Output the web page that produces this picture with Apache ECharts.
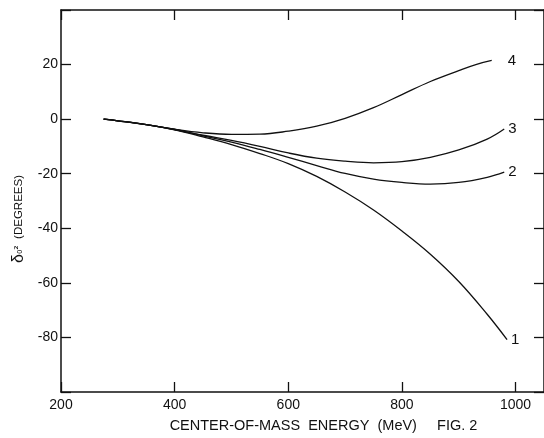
<!DOCTYPE html>
<html>
<head>
<meta charset="utf-8">
<script src="https://cdn.jsdelivr.net/npm/echarts@6/dist/echarts.min.js"></script>
<style>
html,body{margin:0;padding:0;background:#fff;}
#c{width:544px;height:438px;}
</style>
</head>
<body>
<div id="c"></div>
<script>
var energy1 = [275,300,350,400,450,500,550,600,650,700,750,800,850,900,950,985];
var curve1  = [0,-0.6,-2.0,-3.9,-6.5,-9.3,-12.6,-16.3,-21.0,-26.7,-33.3,-41.0,-49.5,-59.5,-71.5,-80.8];
var energy2 = [275,300,350,400,450,500,550,600,650,700,750,800,850,900,950,980];
var curve2  = [0,-0.6,-2.0,-3.8,-6.1,-8.4,-11.1,-14.0,-17.0,-19.9,-22.0,-23.2,-23.8,-23.2,-21.3,-19.4];
var energy3 = [275,300,350,400,450,500,550,600,650,700,750,800,850,900,950,980];
var curve3  = [0,-0.6,-2.0,-3.8,-5.9,-7.8,-10.0,-12.4,-14.3,-15.4,-16.0,-15.6,-14.0,-11.3,-7.3,-3.6];
var energy4 = [275,300,350,400,450,500,550,600,650,700,750,800,850,900,930,958];
var curve4  = [0,-0.6,-2.0,-3.7,-5.0,-5.6,-5.5,-4.4,-2.6,0.3,4.2,9.0,13.8,17.8,20.0,21.5];
var curveNames = ['1','2','3','4'];
var xTickLabels = [200,400,600,800,1000];
var yTickLabels = [20,0,-20,-40,-60,-80];

function pairs(xs, ys){ return xs.map(function(x,i){return [x, ys[i]];}); }

var font = 'Liberation Sans, Arial, sans-serif';
var chart = echarts.init(document.getElementById('c'), null, {renderer:'canvas'});

var xs = [energy1, energy2, energy3, energy4];
var ysArr = [curve1, curve2, curve3, curve4];
var labelOffsets = [[2,0],[2,0],[2,0],[14,0]];

var series = curveNames.map(function(n, i){
  return {
    type:'line', name:n, data: pairs(xs[i], ysArr[i]),
    smooth:0.4, showSymbol:false, symbol:'none',
    lineStyle:{color:'#111', width:1.3},
    endLabel:{show:true, formatter:n, color:'#111', fontFamily:font, fontSize:15, distance:2, offset:labelOffsets[i]},
    silent:true, animation:false, z:3
  };
});

function axisCommon(){
  return {
    axisLine:{show:true, onZero:false, lineStyle:{color:'#111', width:1.5}},
    axisTick:{show:true, inside:true, length:10, lineStyle:{color:'#111', width:1.3}},
    splitLine:{show:false}
  };
}

chart.setOption({
  animation:false,
  backgroundColor:'#fff',
  grid:{left:61, top:10, right:-1, bottom:37, containLabel:false},
  xAxis:[
    Object.assign(axisCommon(), {
      type:'value', position:'bottom', min:200, max:1050, interval:200,
      axisLabel:{show:true, color:'#111', fontFamily:font, fontSize:14, margin:6,
        showMaxLabel:false,
        formatter:function(v){ return xTickLabels.indexOf(v) >= 0 ? String(v) : ''; }},
      name:'CENTER-OF-MASS  ENERGY  (MeV)     FIG. 2',
      nameLocation:'middle', nameGap:26,
      nameTextStyle:{color:'#111', fontFamily:font, fontSize:14.5, padding:[0,0,0,42]}
    }),
    Object.assign(axisCommon(), {
      type:'value', position:'top', min:200, max:1050, interval:200,
      axisLabel:{show:false}
    })
  ],
  yAxis:[
    Object.assign(axisCommon(), {
      type:'value', position:'left', min:-100, max:40, interval:20,
      axisLabel:{show:true, color:'#111', fontFamily:font, fontSize:14, margin:3,
        formatter:function(v){ return yTickLabels.indexOf(v) >= 0 ? String(v) : ''; }},
      name:'{d|δ}{s|₀²}  (DEGREES)', nameLocation:'middle', nameGap:30, nameRotate:90,
      nameTextStyle:{color:'#111', fontFamily:font, fontSize:11.5, padding:[0,36,0,0],
        rich:{
          d:{fontFamily:font, fontSize:16, color:'#111'},
          s:{fontFamily:'DejaVu Sans, sans-serif', fontSize:11, color:'#111'}
        }}
    }),
    Object.assign(axisCommon(), {
      type:'value', position:'right', min:-100, max:40, interval:20,
      axisLabel:{show:false}
    })
  ],
  series: series
});
</script>
</body>
</html>
